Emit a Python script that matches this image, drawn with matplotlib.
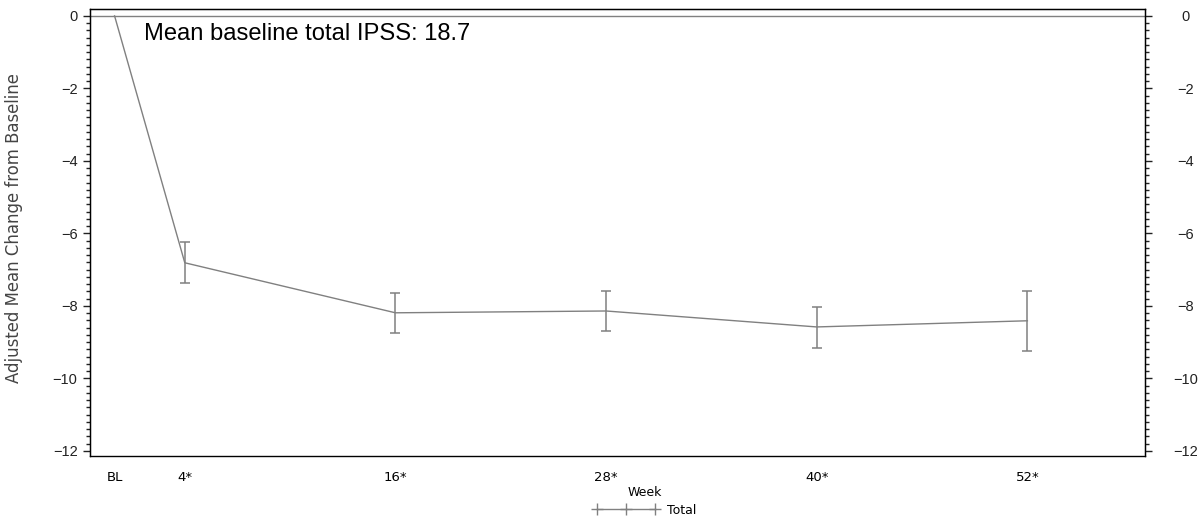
import matplotlib
matplotlib.use("Agg")
import matplotlib.pyplot as plt
from matplotlib.lines import Line2D
from matplotlib.ticker import MultipleLocator, FuncFormatter

weeks = [0, 4, 16, 28, 40, 52]
tick_labels = ["BL", "4*", "16*", "28*", "40*", "52*"]
mean_change = [0.0, -6.81, -8.19, -8.14, -8.58, -8.41]
upper_ci = [0.0, -6.25, -7.65, -7.59, -8.02, -7.59]
lower_ci = [0.0, -7.36, -8.75, -8.69, -9.16, -9.25]
series_name = "Total"
legend_title = "Week"
annotation = "Mean baseline total IPSS: 18.7"
ylabel = "Adjusted Mean Change from Baseline"

fig = plt.figure(figsize=(12.03, 5.16), dpi=100)
ax = fig.add_axes([90/1203, 1-456/516, (1145-90)/1203, (456-9)/516])

gray = "#808080"
ax.axhline(0, color=gray, lw=1.0, zorder=1)
ax.plot(weeks, mean_change, color=gray, lw=1.0, zorder=2)
err_lo = [m - l for m, l in zip(mean_change[1:], lower_ci[1:])]
err_hi = [u - m for m, u in zip(mean_change[1:], upper_ci[1:])]
ax.errorbar(weeks[1:], mean_change[1:], yerr=[err_lo, err_hi], fmt='none',
            ecolor=gray, elinewidth=1.1, capsize=3.6, capthick=1.1, zorder=3)

ax.set_xlim(-1.4, 58.7)
ax.set_ylim(-12.14, 0.19)
ax.set_xticks(weeks)
ax.set_xticklabels(tick_labels, fontsize=9.5, family="DejaVu Sans")
ax.tick_params(axis='x', length=0, pad=11, colors='black')


def fmt(v, pos):
    n = int(round(v))
    if n < 0:
        return "\u2212" + str(-n)
    return str(n)


ax.yaxis.set_major_locator(MultipleLocator(2))
ax.yaxis.set_minor_locator(MultipleLocator(0.2))
ax.yaxis.set_major_formatter(FuncFormatter(fmt))
ax.tick_params(axis='y', which='major', direction='out', length=5, width=1,
               labelsize=10.5, pad=4, colors='#222222')
ax.tick_params(axis='y', which='minor', direction='out', length=3, width=1, colors='#222222')

ax2 = ax.twinx()
ax2.set_ylim(ax.get_ylim())
ax2.yaxis.set_major_locator(MultipleLocator(2))
ax2.yaxis.set_minor_locator(MultipleLocator(0.2))
ax2.yaxis.set_major_formatter(FuncFormatter(fmt))
ax2.tick_params(axis='y', which='major', direction='out', length=5, width=1,
                labelsize=10.5, pad=24, colors='#222222')
ax2.tick_params(axis='y', which='minor', direction='out', length=3, width=1, colors='#222222')

for t in ax.yaxis.get_major_ticks():
    t.label1.set_family("Liberation Sans")
for t in ax2.yaxis.get_major_ticks():
    t.label2.set_family("Liberation Sans")
    t.label2.set_horizontalalignment('center')

for s in ax.spines.values():
    s.set_color('black')
    s.set_linewidth(1.0)
ax.spines['bottom'].set_color('#444444')

ax.set_ylabel(ylabel, fontsize=11.9, family="DejaVu Sans", color='#444444')
ax.yaxis.set_label_coords(-(90-23)/1055, 0.511)

ax.text((144-90)/1055, (456-39.5)/447, annotation, transform=ax.transAxes,
        fontsize=17.1, family="Liberation Sans", va='baseline', ha='left', color='black')

handle = Line2D([], [], color=gray, lw=1.0, marker='+', markersize=9,
                markeredgecolor=gray, markeredgewidth=1.0)
leg = fig.legend([handle], [series_name], title=legend_title, loc='center',
                 bbox_to_anchor=(645/1203, 1-501.5/516), frameon=False, numpoints=3,
                 handlelength=5.2, fontsize=9, title_fontsize=9, borderpad=0,
                 handletextpad=0.7, labelspacing=0.35)
leg.get_title().set_family("DejaVu Sans")

fig.savefig("out.png", dpi=100)
